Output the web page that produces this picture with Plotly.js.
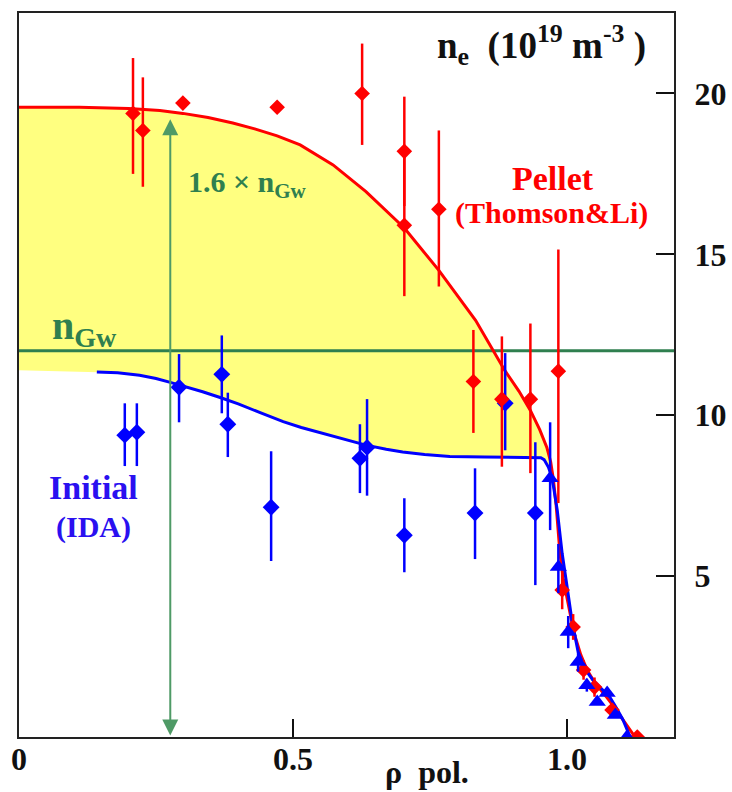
<!DOCTYPE html>
<html>
<head>
<meta charset="utf-8">
<script src="https://cdn.plot.ly/plotly-3.0.1.min.js"></script>
<style>html,body{margin:0;padding:0;background:#fff;}#chart{width:732px;height:792px;}</style>
</head>
<body>
<div id="chart"></div>
<script>
// ---- data ----
const pelletX = [0.208, 0.226, 0.299, 0.471, 0.626, 0.703, 0.703, 0.766, 0.829, 0.881, 0.933, 0.984, 0.991, 1.011, 1.030, 1.050, 1.082, 1.128];
const pelletY = [19.38, 18.85, 19.70, 19.57, 20.00, 18.20, 15.90, 16.40, 11.05, 10.50, 10.50, 11.37, 4.57, 3.42, 2.08, 1.55, 0.84, 0.00];
const pelletErrPlus  = [1.72, 1.65, 0, 0, 1.55, 1.70, 2.20, 2.45, 1.60, 1.95, 2.35, 3.78, 0.60, 0.40, 0.30, 0.30, 0.20, 0];
const pelletErrMinus = [1.88, 1.75, 0, 0, 1.60, 1.70, 2.20, 2.40, 1.60, 2.10, 2.30, 4.10, 0.60, 0.40, 0.30, 0.30, 0.20, 0];

const initialX = [0.193, 0.215, 0.292, 0.370, 0.381, 0.460, 0.622, 0.635, 0.703, 0.832, 0.887, 0.942];
const initialY = [9.38, 9.47, 10.87, 11.27, 9.72, 7.14, 8.66, 9.00, 6.27, 6.96, 10.37, 6.96];
const initialErrPlus  = [0.99, 0.90, 1.03, 1.21, 0.98, 1.74, 1.06, 1.50, 1.15, 1.39, 1.56, 2.20];
const initialErrMinus = [0.96, 1.05, 1.09, 1.21, 1.02, 1.67, 1.08, 1.50, 1.15, 1.43, 1.46, 2.24];

const edgeX = [0.969, 0.984, 1.002, 1.020, 1.036, 1.055, 1.073, 1.088, 1.109];
const edgeY = [8.04, 5.28, 3.26, 2.33, 1.61, 1.09, 1.37, 0.68, 0.00];
const edgeErrPlus  = [1.74, 0.72, 0.50, 0.30, 0.20, 0, 0, 0, 0];
const edgeErrMinus = [1.61, 0.81, 0.50, 0.30, 0.20, 0, 0, 0, 0];

const pelletFitX = [0.000, 0.110, 0.200, 0.257, 0.299, 0.345, 0.390, 0.430, 0.471, 0.513, 0.573, 0.633, 0.703, 0.766, 0.833, 0.866, 0.886, 0.912, 0.933, 0.950, 0.963, 0.970, 0.975, 0.980, 0.987, 0.993, 1.000, 1.008, 1.015, 1.025, 1.036, 1.050, 1.066, 1.085, 1.102, 1.114, 1.124];
const pelletFitY = [19.57, 19.57, 19.53, 19.47, 19.38, 19.25, 19.08, 18.90, 18.68, 18.40, 17.78, 16.95, 15.82, 14.50, 12.95, 12.00, 11.40, 10.75, 10.15, 9.55, 9.00, 8.55, 8.00, 7.20, 5.70, 4.90, 4.25, 3.62, 3.10, 2.55, 2.10, 1.70, 1.37, 0.95, 0.53, 0.25, 0.00];

const initialFitX = [0.142, 0.180, 0.220, 0.250, 0.276, 0.305, 0.335, 0.367, 0.400, 0.440, 0.482, 0.515, 0.549, 0.590, 0.633, 0.670, 0.700, 0.740, 0.786, 0.850, 0.900, 0.940, 0.952, 0.958, 0.962, 0.966, 0.970, 0.975, 0.982, 0.991, 1.000, 1.009, 1.020, 1.033, 1.047, 1.062, 1.078, 1.090, 1.102, 1.115];
const initialFitY = [11.34, 11.32, 11.24, 11.14, 11.02, 10.88, 10.73, 10.55, 10.35, 10.08, 9.80, 9.62, 9.46, 9.26, 9.07, 8.94, 8.86, 8.78, 8.72, 8.70, 8.70, 8.70, 8.68, 8.62, 8.52, 8.38, 8.18, 7.80, 7.05, 5.70, 4.66, 3.60, 2.65, 2.10, 1.77, 1.52, 1.24, 0.90, 0.53, 0.00];

const fillLeftLevel = 11.4;   // level of the yellow band left of the Initial fit
const fillEndX = 0.970;       // where the two fits meet
const nGw = 12;               // Greenwald density
const nGwFactor = 1.6;
const arrowX = 0.276;

const xTickVals = [0, 0.5, 1.0];
const xTickText = ['0', '0.5', '1.0'];
const yTickVals = [5, 10, 15, 20];
const yTickText = ['5', '10', '15', '20'];

// ---- build ----
const RED = '#ff0000', BLUE = '#0000ff', GREEN = '#2f7f4f', GREEN2 = '#4f9a66', YELLOW = '#ffff80';
const SERIF = '"Liberation Serif", "Times New Roman", serif';

const lowX = [0], lowY = [fillLeftLevel];
initialFitX.forEach((x, i) => { if (x <= fillEndX) { lowX.push(x); lowY.push(initialFitY[i]); } });
const upX = [], upY = [];
pelletFitX.forEach((x, i) => { if (x <= fillEndX) { upX.push(x); upY.push(pelletFitY[i]); } });

const traces = [
  {x: lowX, y: lowY, mode: 'lines', line: {width: 0, color: YELLOW}, hoverinfo: 'skip', showlegend: false},
  {x: upX, y: upY, mode: 'lines', line: {width: 0, color: YELLOW}, fill: 'tonexty', fillcolor: YELLOW, hoverinfo: 'skip', showlegend: false},
  {x: [0, 1.2], y: [nGw, nGw], mode: 'lines', line: {color: GREEN, width: 3}, showlegend: false},
  {x: pelletFitX, y: pelletFitY, mode: 'lines', line: {color: RED, width: 3}, showlegend: false},
  {x: initialFitX, y: initialFitY, mode: 'lines', line: {color: BLUE, width: 3}, showlegend: false},
  {x: initialX, y: initialY, mode: 'markers', marker: {symbol: 'diamond', size: 13, color: BLUE},
   error_y: {type: 'data', symmetric: false, array: initialErrPlus, arrayminus: initialErrMinus, width: 0, thickness: 2.5, color: BLUE}, showlegend: false},
  {x: pelletX, y: pelletY, mode: 'markers', marker: {symbol: 'diamond', size: 12, color: RED},
   error_y: {type: 'data', symmetric: false, array: pelletErrPlus, arrayminus: pelletErrMinus, width: 0, thickness: 2.5, color: RED}, showlegend: false},
  {x: edgeX, y: edgeY, mode: 'markers', marker: {symbol: 'triangle-up', size: 15, color: BLUE},
   error_y: {type: 'data', symmetric: false, array: edgeErrPlus, arrayminus: edgeErrMinus, width: 0, thickness: 2.5, color: BLUE}, showlegend: false}
];

const tickFont = {family: SERIF, size: 32, color: '#111', weight: 'bold'};
const layout = {
  width: 732, height: 792,
  margin: {l: 19, r: 58, t: 13, b: 55},
  paper_bgcolor: '#fff', plot_bgcolor: '#fff',
  showlegend: false,
  xaxis: {range: [0, 1.195], tickvals: xTickVals, ticktext: xTickText, ticks: 'inside', ticklen: 18, tickwidth: 2, tickcolor: '#111',
          showline: true, linecolor: '#222', linewidth: 2, mirror: true, showgrid: false, zeroline: false, tickfont: tickFont, ticklabelstandoff: -7},
  yaxis: {range: [0, 22.5], side: 'right', tickvals: yTickVals, ticktext: yTickText, ticks: 'inside', ticklen: 18, tickwidth: 2, tickcolor: '#111',
          showline: true, linecolor: '#222', linewidth: 2, mirror: true, showgrid: false, zeroline: false, tickfont: tickFont, ticklabelstandoff: 12},
  annotations: [
    {x: arrowX, y: nGw * nGwFactor, ax: arrowX, ay: 0, xref: 'x', yref: 'y', axref: 'x', ayref: 'y', text: '', showarrow: true,
     arrowside: 'end+start', arrowhead: 2, arrowsize: 1.6, arrowwidth: 2, arrowcolor: GREEN2, standoff: 0, startstandoff: 0},
    {x: 0.953, y: 21.5, xref: 'x', yref: 'y', text: 'n<sub>e</sub>&nbsp;&nbsp;(10<sup>19</sup>&nbsp;m<sup>-3</sup>&nbsp;)', showarrow: false,
     font: {family: SERIF, size: 37, color: '#111', weight: 'bold'}, xanchor: 'center', yanchor: 'middle'},
    {x: 0.416, y: 17.2, xref: 'x', yref: 'y', text: '1.6&nbsp;×&nbsp;n<sub>Gw</sub>', showarrow: false,
     font: {family: SERIF, size: 30, color: GREEN, weight: 'bold'}, xanchor: 'center', yanchor: 'middle'},
    {x: 0.119, y: 12.7, xref: 'x', yref: 'y', text: 'n<sub>Gw</sub>', showarrow: false,
     font: {family: SERIF, size: 40, color: GREEN, weight: 'bold'}, xanchor: 'center', yanchor: 'middle'},
    {x: 0.974, y: 17.36, xref: 'x', yref: 'y', text: 'Pellet', showarrow: false,
     font: {family: SERIF, size: 34, color: RED, weight: 'bold'}, xanchor: 'center', yanchor: 'middle'},
    {x: 0.971, y: 16.27, xref: 'x', yref: 'y', text: '(Thomson&amp;Li)', showarrow: false,
     font: {family: SERIF, size: 30, color: RED, weight: 'bold'}, xanchor: 'center', yanchor: 'middle'},
    {x: 0.135, y: 7.76, xref: 'x', yref: 'y', text: 'Initial', showarrow: false,
     font: {family: SERIF, size: 34, color: '#2a10f0', weight: 'bold'}, xanchor: 'center', yanchor: 'middle'},
    {x: 0.135, y: 6.52, xref: 'x', yref: 'y', text: '(IDA)', showarrow: false,
     font: {family: SERIF, size: 30, color: '#2a10f0', weight: 'bold'}, xanchor: 'center', yanchor: 'middle'},
    {x: 0.745, y: -0.048, xref: 'x', yref: 'paper', text: 'ρ&nbsp;&nbsp;pol.', showarrow: false,
     font: {family: SERIF, size: 32, color: '#111', weight: 'bold'}, xanchor: 'center', yanchor: 'middle'}
  ]
};

Plotly.newPlot('chart', traces, layout, {staticPlot: true, displayModeBar: false});
</script>
</body>
</html>
